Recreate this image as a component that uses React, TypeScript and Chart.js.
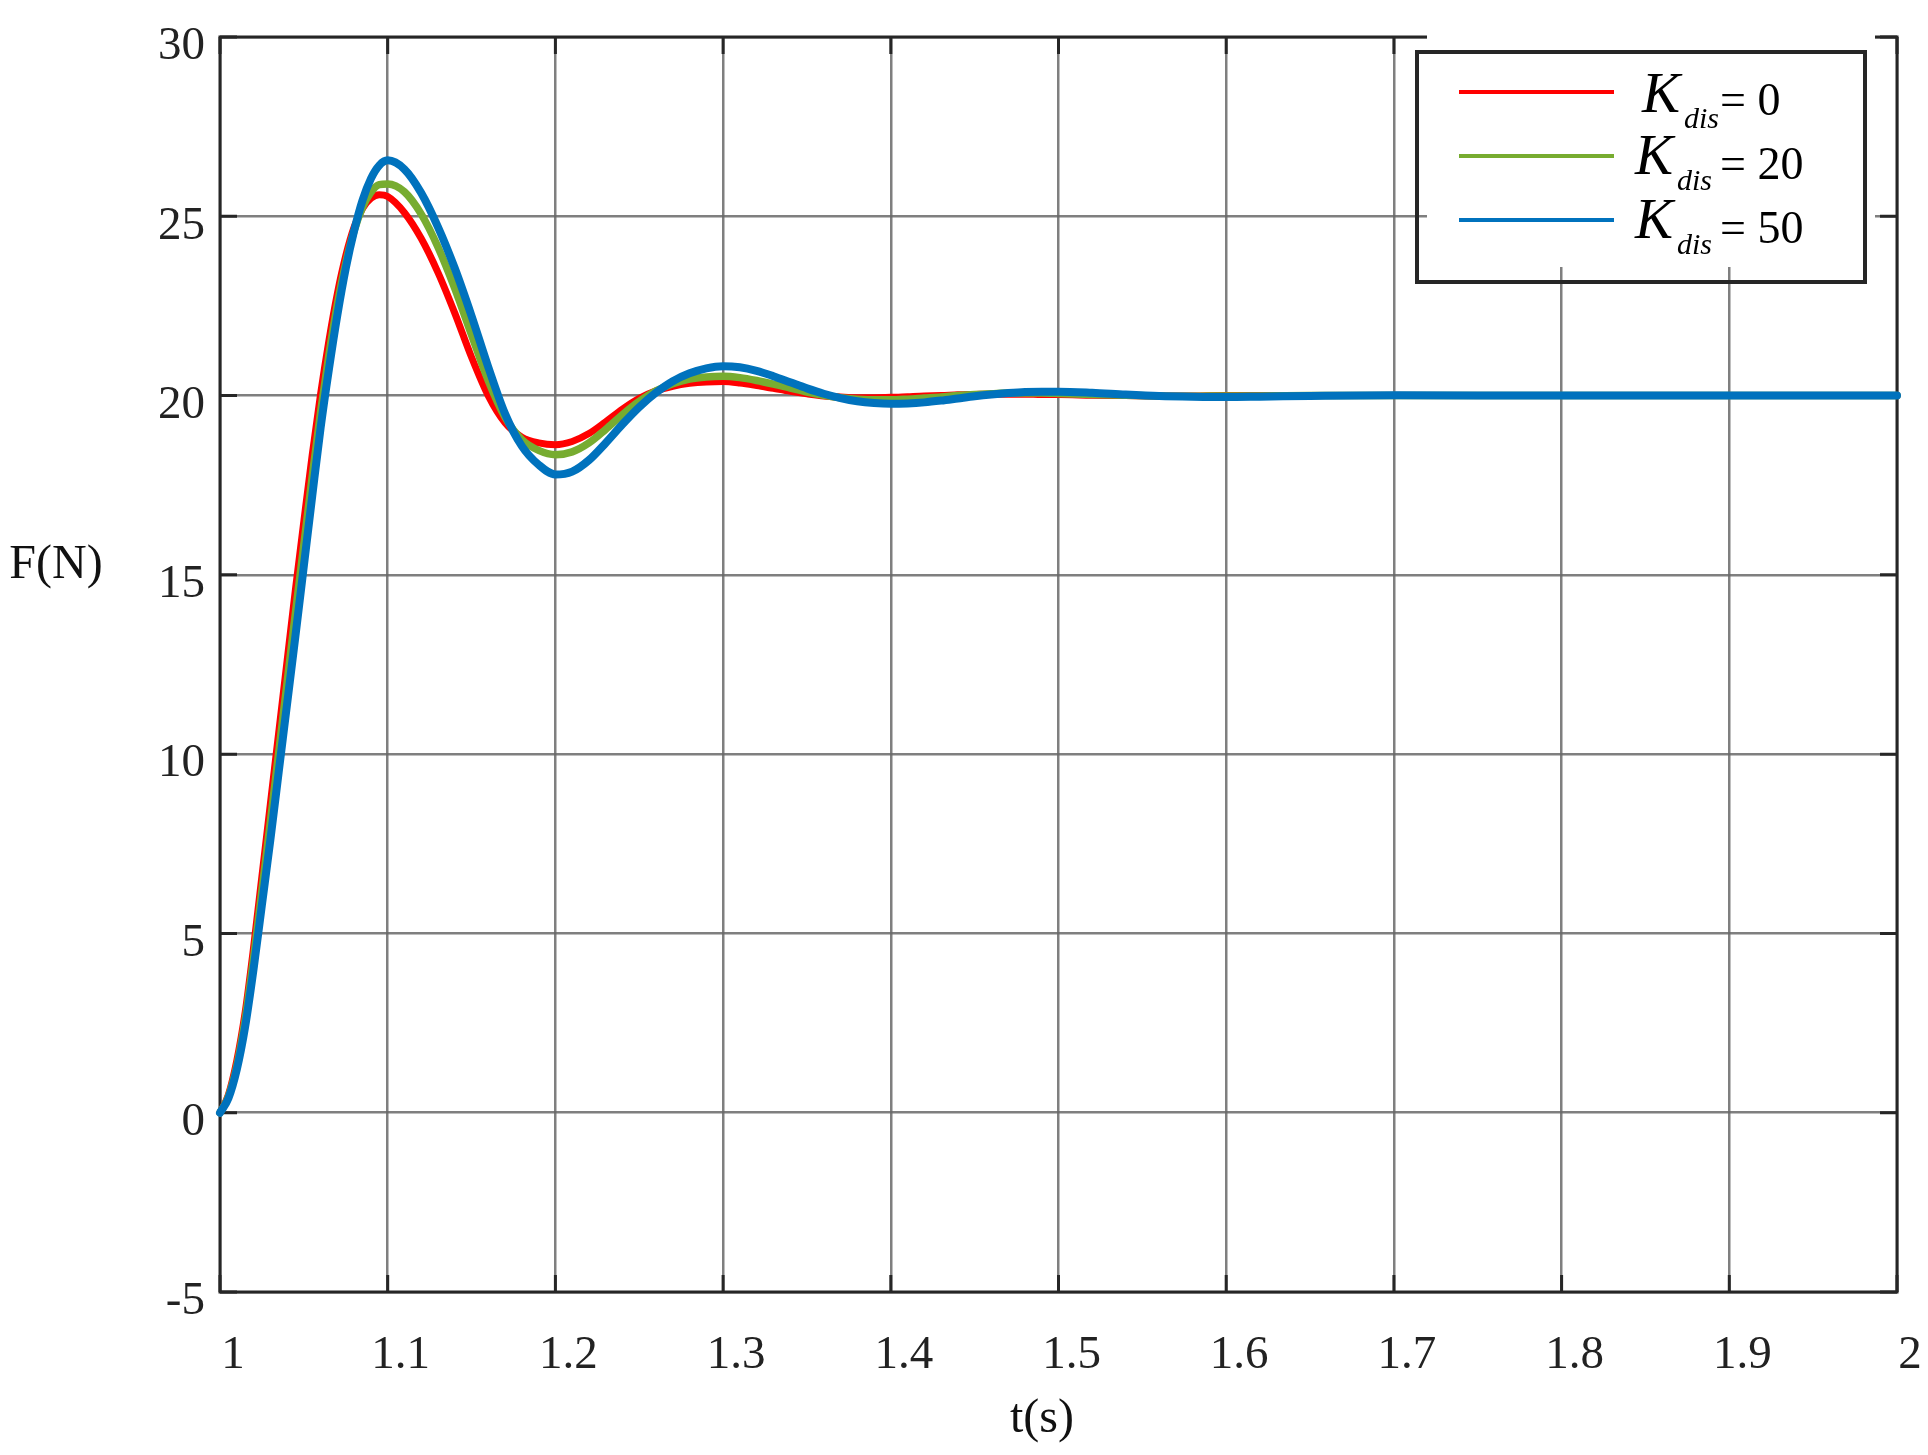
import React, { useEffect, useRef } from "react";
import { Chart, registerables } from "chart.js";

Chart.register(...registerables);

// ---------- data ----------
const timeS = [
  1.0, 1.005, 1.01, 1.015, 1.02, 1.025, 1.03, 1.035, 1.04, 1.045, 1.05, 1.055, 1.06, 1.065, 1.07, 1.075, 1.08,
  1.085, 1.09, 1.095, 1.1,
  1.11, 1.12, 1.13, 1.14, 1.15, 1.16, 1.17, 1.18, 1.19, 1.2, 1.21, 1.22, 1.23, 1.24, 1.25, 1.26, 1.27, 1.28,
  1.29, 1.3, 1.31, 1.32, 1.33, 1.34, 1.35, 1.36, 1.37, 1.38, 1.39, 1.4, 1.41, 1.42, 1.43, 1.44, 1.45, 1.46,
  1.47, 1.48, 1.49, 1.5,
  1.52, 1.54, 1.56, 1.58, 1.6, 1.62,
  1.65, 1.7, 1.8, 1.9, 2.0,
];

const forceKdis0 = [
  0, 0.5, 1.45, 2.8, 4.6, 6.6, 8.6, 10.6, 12.6, 14.6, 16.5, 18.35, 20.05, 21.55, 22.85, 23.9, 24.7,
  25.22, 25.5, 25.6, 25.55,
  25.1, 24.38, 23.43, 22.3, 21.07, 19.99, 19.24, 18.84, 18.68, 18.63, 18.72, 18.94, 19.27, 19.62, 19.92, 20.13,
  20.26, 20.34, 20.38, 20.39, 20.35, 20.28, 20.2, 20.12, 20.05, 19.99, 19.96, 19.94, 19.94, 19.95, 19.97, 19.99,
  20.0, 20.02, 20.03, 20.04, 20.04, 20.04, 20.03, 20.03,
  20.01, 20.0, 19.99, 19.99, 20.0, 20.0,
  20.0, 20.0, 20.0, 20.0, 20.0,
];

const forceKdis20 = [
  0, 0.45, 1.3, 2.6, 4.3, 6.2, 8.1, 10.05, 12.0, 13.95, 15.85, 17.75, 19.55, 21.15, 22.55, 23.7, 24.6,
  25.25, 25.67, 25.88, 25.9,
  25.68, 25.06, 24.14, 22.99, 21.69, 20.41, 19.39, 18.77, 18.47, 18.35, 18.43, 18.68, 19.06, 19.47, 19.84, 20.13,
  20.33, 20.46, 20.52, 20.54, 20.5, 20.42, 20.32, 20.21, 20.1, 20.01, 19.94, 19.9, 19.88, 19.88, 19.9, 19.93,
  19.96, 20.0, 20.03, 20.05, 20.07, 20.07, 20.07, 20.06,
  20.03, 20.01, 19.99, 19.98, 19.99, 19.99,
  20.0, 20.0, 20.0, 20.0, 20.0,
];

const forceKdis50 = [
  0, 0.4, 1.2, 2.4, 4.0, 5.8, 7.6, 9.5, 11.4, 13.3, 15.25, 17.2, 19.1, 20.75, 22.25, 23.55, 24.6,
  25.45, 26.05, 26.42, 26.56,
  26.31, 25.65, 24.7, 23.55, 22.22, 20.79, 19.49, 18.59, 18.07, 17.8, 17.88, 18.2, 18.68, 19.2, 19.68, 20.08,
  20.4, 20.62, 20.76, 20.82, 20.79, 20.69, 20.54, 20.37, 20.2, 20.05, 19.93, 19.84, 19.79, 19.77, 19.78, 19.81,
  19.86, 19.92, 19.98, 20.03, 20.07, 20.1, 20.11, 20.11,
  20.08, 20.03, 19.99, 19.97, 19.96, 19.97,
  19.99, 20.01, 20.0, 20.0, 20.0,
];

const kdisValues = ["0", "20", "50"];
const seriesColors = ["#FF0000", "#77AC30", "#0072BD"];
const seriesWidths = [7, 7.5, 8];
const xTitle = "t(s)";
const yTitle = "F(N)";

const SERIF = "'Liberation Serif', 'Times New Roman', serif";
const AXIS_COLOR = "#262626";
const GRID_COLOR = "rgba(105,105,105,0.85)";

const framePlugin = {
  id: "frameTicks",
  beforeDatasetsDraw(chart: any) {
    const { ctx, chartArea, scales } = chart;
    const { left, right, top, bottom } = chartArea;
    ctx.save();
    ctx.strokeStyle = AXIS_COLOR;
    ctx.lineWidth = 3;
    ctx.strokeRect(left, top, right - left, bottom - top);
    const L = 17;
    ctx.beginPath();
    scales.x.ticks.forEach((t: any) => {
      const px = scales.x.getPixelForValue(t.value);
      ctx.moveTo(px, bottom);
      ctx.lineTo(px, bottom - L);
      ctx.moveTo(px, top);
      ctx.lineTo(px, top + L);
    });
    scales.y.ticks.forEach((t: any) => {
      const py = scales.y.getPixelForValue(t.value);
      ctx.moveTo(left, py);
      ctx.lineTo(left + L, py);
      ctx.moveTo(right, py);
      ctx.lineTo(right - L, py);
    });
    ctx.stroke();
    ctx.restore();
  },
  afterDraw(chart: any) {
    const { ctx, chartArea } = chart;
    const { left, right, top, bottom } = chartArea;
    ctx.save();
    // axis titles
    ctx.fillStyle = "#111";
    ctx.font = `48px ${SERIF}`;
    ctx.textAlign = "center";
    ctx.textBaseline = "middle";
    ctx.fillText(yTitle, left - 164, 565);
    ctx.textBaseline = "alphabetic";
    ctx.fillText(xTitle, left + 822, bottom + 140);

    // legend
    const bx = right - 480;
    const by = top + 15;
    const bw = 448;
    const bh = 230;
    ctx.fillStyle = "#ffffff";
    ctx.fillRect(bx + 10, by - 19, bw, bh - 15 + 19);
    ctx.strokeStyle = AXIS_COLOR;
    ctx.lineWidth = 4;
    ctx.strokeRect(bx, by, bw, bh);

    const rows = [40, 104, 168];
    const kShift = [7, 0, 0];
    rows.forEach((dy, i) => {
      const ly = by + dy;
      ctx.strokeStyle = seriesColors[i];
      ctx.lineWidth = 4;
      ctx.beginPath();
      ctx.moveTo(bx + 42, ly);
      ctx.lineTo(bx + 197, ly);
      ctx.stroke();

      ctx.fillStyle = "#000";
      ctx.textAlign = "left";
      ctx.textBaseline = "alphabetic";
      const kx = bx + 218 + kShift[i];
      const kBase = ly + 18 + (i === 0 ? 2 : 0);
      ctx.font = `italic 57px ${SERIF}`;
      ctx.fillText("K", kx, kBase);
      ctx.font = `italic 30px ${SERIF}`;
      ctx.fillText("dis", kx + 42, kBase + 16);
      ctx.font = `46px ${SERIF}`;
      ctx.fillText("= " + kdisValues[i], bx + 303, ly + 23);
    });
    ctx.restore();
  },
};

export default function App() {
  const canvasRef = useRef<HTMLCanvasElement | null>(null);

  useEffect(() => {
    document.body.style.margin = "0";
    const canvas = canvasRef.current;
    if (!canvas) return;
    const series = [forceKdis0, forceKdis20, forceKdis50];
    const chart = new Chart(canvas, {
      type: "line",
      data: {
        datasets: series.map((vals, i) => ({
          label: "K_dis = " + kdisValues[i],
          data: timeS.map((t, j) => ({ x: t, y: vals[j] })),
          borderColor: seriesColors[i],
          backgroundColor: seriesColors[i],
          borderWidth: seriesWidths[i],
          pointRadius: 0,
          fill: false,
          cubicInterpolationMode: "monotone" as const,
          borderCapStyle: "round" as const,
          borderJoinStyle: "round" as const,
          order: 3 - i,
          clip: 10,
        })),
      },
      plugins: [framePlugin],
      options: {
        responsive: false,
        animation: false,
        devicePixelRatio: 1,
        layout: { padding: { left: 0, right: 31, top: 37, bottom: 0 } },
        plugins: { legend: { display: false }, tooltip: { enabled: false } },
        scales: {
          x: {
            type: "linear",
            min: 1,
            max: 2,
            afterFit: (scale: any) => {
              scale.height = 163;
              scale.paddingLeft = 0;
              scale.paddingRight = 0;
            },
            ticks: {
              stepSize: 0.1,
              autoSkip: false,
              maxRotation: 0,
              padding: 35,
              labelOffset: 13,
              color: "#222",
              font: { family: SERIF, size: 47 },
              callback: (v: any) => String(Math.round(Number(v) * 10) / 10),
            },
            grid: { color: GRID_COLOR, lineWidth: 2.5, drawTicks: false },
            border: { display: false },
          },
          y: {
            type: "linear",
            min: -5,
            max: 30,
            afterFit: (scale: any) => {
              scale.width = 220;
              scale.paddingTop = 0;
              scale.paddingBottom = 0;
            },
            ticks: {
              stepSize: 5,
              padding: 15,
              labelOffset: 10,
              color: "#222",
              font: { family: SERIF, size: 47 },
            },
            grid: { color: GRID_COLOR, lineWidth: 2.5, drawTicks: false },
            border: { display: false },
          },
        },
      },
    });
    return () => chart.destroy();
  }, []);

  return (
    <div style={{ width: 1928, height: 1455 }}>
      <canvas ref={canvasRef} width={1928} height={1455} style={{ display: "block" }} />
    </div>
  );
}
